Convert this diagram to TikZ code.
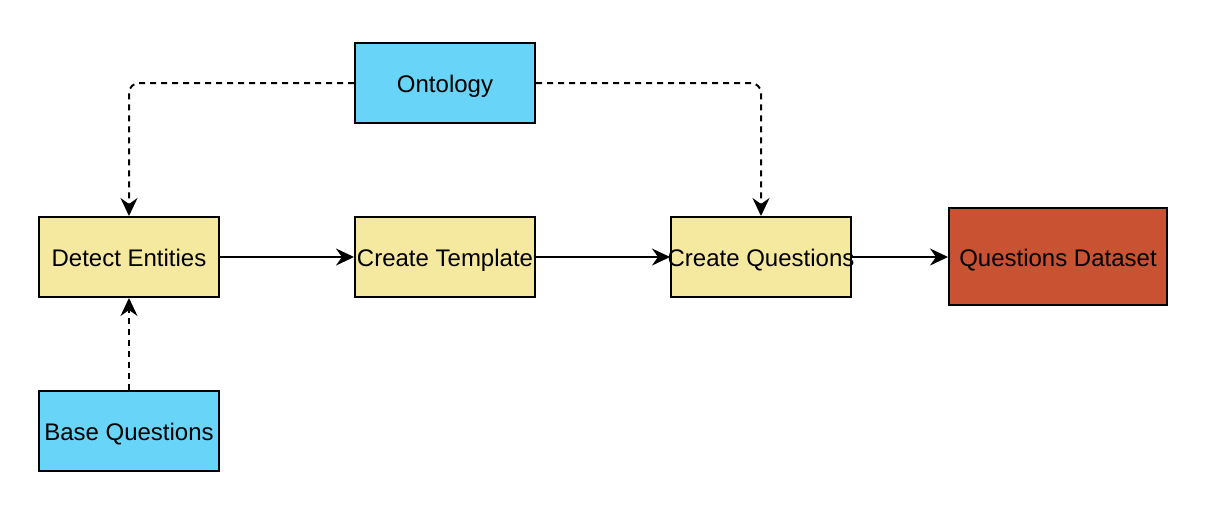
\documentclass[tikz,border=0pt]{standalone}
\usepackage{fontspec}
\setmainfont{Liberation Sans}
\usetikzlibrary{arrows.meta}
\definecolor{boxyellow}{HTML}{F5E9A0}
\definecolor{boxblue}{HTML}{67D4F8}
\definecolor{boxred}{HTML}{C85232}
\begin{document}
\begin{tikzpicture}[x=0.5pt,y=-0.5pt,
  box/.style={draw=black, line width=1pt, minimum width=90pt, minimum height=40pt, inner sep=0pt, text height=9.5pt, text depth=0pt, font=\fontsize{12}{14}\selectfont},
  yellowbox/.style={box, fill=boxyellow},
  bluebox/.style={box, fill=boxblue},
  redbox/.style={box, fill=boxred, minimum width=109pt, minimum height=48.5pt},
  flow/.style={line width=1pt, -{Stealth[length=9pt, width=8.5pt, inset=3pt]}},
  dflow/.style={flow, dash pattern=on 3pt off 2.5pt},
]
\useasboundingbox (0,0) rectangle (1210,526);
\node[bluebox] (onto) at (445,83) {Ontology};
\node[yellowbox] (detect) at (129,257) {Detect Entities};
\node[yellowbox] (templ) at (445,257) {Create Template};
\node[yellowbox] (createq) at (761,257) {\makebox[0pt]{Create Questions}};
\node[redbox] (dataset) at (1058,256.5) {Questions Dataset};
\node[bluebox] (base) at (129,431) {Base Questions};

\draw[flow] (detect.east) -- (templ.west);
\draw[flow] (templ.east) -- (createq.west);
\draw[flow] (createq.east) -- (createq.east -| dataset.west);
\draw[dflow] (base.north) -- (detect.south);
\draw[dflow, rounded corners=5pt] (onto.west) -| (detect.north);
\draw[dflow, rounded corners=5pt] (onto.east) -| (createq.north);
\end{tikzpicture}
\end{document}
